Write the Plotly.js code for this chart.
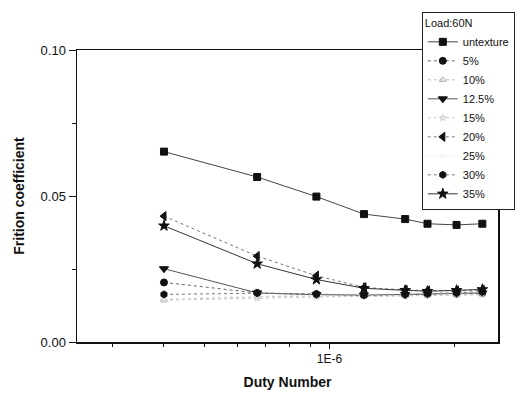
<!DOCTYPE html>
<html>
<head>
<meta charset="utf-8">
<script src="https://cdn.plot.ly/plotly-3.0.1.min.js"></script>
<style>html,body{margin:0;padding:0;background:#fff;}#chart{width:527px;height:404px;}</style>
</head>
<body>
<div id="chart"></div>
<script>
const dutyNumber = [4.0e-7, 6.7e-7, 9.3e-7, 1.21e-6, 1.52e-6, 1.72e-6, 2.02e-6, 2.33e-6];
const seriesNames = ['untexture', '5%', '10%', '12.5%', '15%', '20%', '25%', '30%', '35%'];
const untexture = [0.0652, 0.0565, 0.0498, 0.0438, 0.0421, 0.0405, 0.0401, 0.0405];
const p5   = [0.0204, 0.0168, 0.0164, 0.0160, 0.0162, 0.0163, 0.0165, 0.0168];
const p10  = [0.0145, 0.0155, 0.0158, 0.0156, 0.0158, 0.0160, 0.0162, 0.0163];
const p12_5 = [0.0251, 0.0168, 0.0162, 0.0161, 0.0163, 0.0165, 0.0167, 0.0168];
const p15  = [0.0143, 0.0150, 0.0155, 0.0157, 0.0158, 0.0160, 0.0160, 0.0162];
const p20  = [0.0431, 0.0294, 0.0227, 0.0187, 0.0178, 0.0176, 0.0176, 0.0178];
const p25  = [0.0148, 0.0158, 0.0160, 0.0162, 0.0165, 0.0166, 0.0168, 0.0170];
const p30  = [0.0163, 0.0167, 0.0163, 0.0160, 0.0163, 0.0165, 0.0168, 0.0172];
const p35  = [0.0398, 0.0268, 0.0214, 0.0184, 0.0177, 0.0174, 0.0177, 0.0180];
const yTickVals = [0, 0.05, 0.10];
const yTickText = ['0.00', '0.05', '0.10'];
const xTickVals = [1e-6];
const xTickText = ['1E-6'];
const xMinorVals = [3e-7, 4e-7, 5e-7, 6e-7, 7e-7, 8e-7, 9e-7, 2e-6];

const values = [untexture, p5, p10, p12_5, p15, p20, p25, p30, p35];
const styles = [
  {sym: 'square', size: 7, mc: '#111', lc: '#444', dash: 'solid', lw: 1},
  {sym: 'circle', size: 7, mc: '#111', lc: '#666', dash: 'dot', lw: 1},
  {sym: 'triangle-up-open', size: 6, mc: '#aaa', lc: '#bbb', dash: 'dot', lw: 1},
  {sym: 'triangle-down', size: 8, mc: '#111', lc: '#555', dash: 'solid', lw: 1},
  {sym: 'star-open', size: 5, mc: '#ccc', lc: '#ccc', dash: 'dot', lw: 1},
  {sym: 'triangle-left', size: 8, mc: '#111', lc: '#777', dash: 'dot', lw: 1},
  {sym: 'diamond-open', size: 4, mc: '#eee', lc: '#eee', dash: 'dot', lw: 1},
  {sym: 'hexagon', size: 7, mc: '#111', lc: '#777', dash: 'dot', lw: 1},
  {sym: 'star', size: 8, mc: '#111', lc: '#333', dash: 'solid', lw: 1}
];

const traces = seriesNames.map((n, i) => ({
  x: dutyNumber, y: values[i], name: n, type: 'scatter', mode: 'lines+markers',
  line: {color: styles[i].lc, width: styles[i].lw, dash: styles[i].dash},
  marker: {symbol: styles[i].sym, size: styles[i].size, color: styles[i].mc, line: {width: 1, color: styles[i].mc}}
}));

const layout = {
  width: 527, height: 404,
  margin: {l: 77, r: 25, t: 43, b: 62},
  paper_bgcolor: '#fff', plot_bgcolor: '#fff',
  font: {family: 'Liberation Sans, Arial, sans-serif', size: 12, color: '#111'},
  showlegend: true,
  legend: {
    x: 0.819, y: 1.13, xanchor: 'left', yanchor: 'top',
    bordercolor: '#222', borderwidth: 1, bgcolor: '#fff',
    font: {size: 11, color: '#111'},
    title: {text: 'Load:60N', side: 'top', font: {size: 11}},
    tracegroupgap: 0, itemwidth: 30
  },
  xaxis: {
    type: 'log', range: [-6.607, -5.595],
    tickmode: 'array', tickvals: xTickVals, ticktext: xTickText,
    ticks: 'outside', ticklen: 5, tickwidth: 1, tickcolor: '#111',
    minor: {tickmode: 'array', tickvals: xMinorVals, ticks: 'outside', ticklen: 3, tickcolor: '#111', showgrid: false},
    showline: true, linecolor: '#111', linewidth: 1.5, mirror: true,
    showgrid: false, zeroline: false,
    tickfont: {size: 12},
    title: {text: '<b>Duty Number</b>', font: {size: 14, color: '#111'}, standoff: 12}
  },
  yaxis: {
    range: [0, 0.1],
    tickmode: 'array', tickvals: yTickVals, ticktext: yTickText,
    ticks: 'outside', ticklen: 7, tickwidth: 1, tickcolor: '#111',
    minor: {dtick: 0.025, tick0: 0, ticks: 'outside', ticklen: 4, tickcolor: '#111', showgrid: false},
    showline: true, linecolor: '#111', linewidth: 1.5, mirror: true,
    showgrid: false, zeroline: false,
    tickfont: {size: 13},
    title: {text: '<b>Frition coefficient</b>', font: {size: 14, color: '#111'}, standoff: 12}
  }
};

Plotly.newPlot('chart', traces, layout, {displayModeBar: false, staticPlot: true});
</script>
</body>
</html>
